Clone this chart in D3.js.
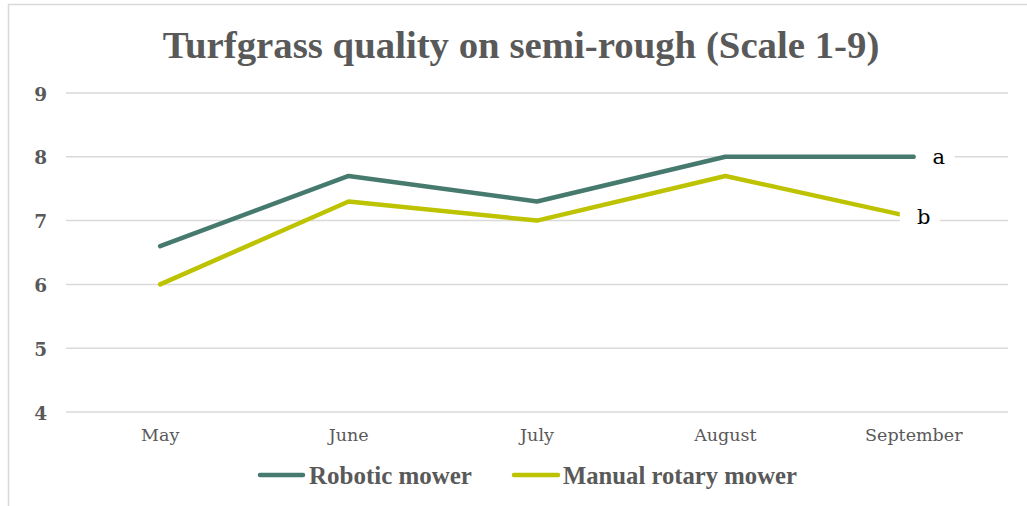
<!DOCTYPE html>
<html>
<head>
<meta charset="utf-8">
<script src="https://cdn.jsdelivr.net/npm/d3@7/dist/d3.min.js"></script>
<style>
  html, body { margin: 0; padding: 0; background: #fff; }
  svg { display: block; }
</style>
</head>
<body>
<svg id="chart" width="1027" height="506"></svg>
<script>
const categories = ["May", "June", "July", "August", "September"];
const robotic = [6.6, 7.7, 7.3, 8.0, 8.0];
const manual = [6.0, 7.3, 7.0, 7.7, 7.05];
const seriesNames = ["Robotic mower", "Manual rotary mower"];
const yTicks = [4, 5, 6, 7, 8, 9];
const endLabels = ["a", "b"];
const title = "Turfgrass quality on semi-rough (Scale 1-9)";

const colors = ["#477A6E", "#BDC300"];
const serif = "'DejaVu Serif', 'Liberation Serif', serif";
const serif2 = "'Liberation Serif', 'DejaVu Serif', serif";
const textColor = "#595959";

const svg = d3.select("#chart");

function fit(sel, target) {
  const w = sel.node().getComputedTextLength();
  const fs = parseFloat(sel.attr("font-size"));
  sel.attr("font-size", (fs * target / w).toFixed(2));
}

// outer border
svg.append("rect").attr("x", 8.5).attr("y", 4.5).attr("width", 1200).attr("height", 700)
  .attr("fill", "#fff").attr("stroke", "#D9D9D9").attr("stroke-width", 1.5);

const x = d3.scaleBand().domain(categories).range([66, 1008]);
const y = d3.scaleLinear().domain([4, 9]).range([412, 93]);
const cx = d => x(d) + x.bandwidth() / 2;

// gridlines
svg.append("g").selectAll("line").data(yTicks).join("line")
  .attr("x1", 66).attr("x2", 1008)
  .attr("y1", d => y(d)).attr("y2", d => y(d))
  .attr("stroke", "#D9D9D9").attr("stroke-width", 1.5);

// y axis labels
const yAxis = svg.append("g").attr("transform", "translate(47,0)")
  .call(d3.axisLeft(y).tickValues(yTicks).tickSize(0).tickPadding(0).tickFormat(d3.format("d")));
yAxis.select(".domain").remove();
yAxis.selectAll("text").attr("font-family", serif).attr("font-weight", "bold")
  .attr("font-size", 18.5).attr("fill", textColor).attr("dy", "0.38em");

// x axis labels
const xAxis = svg.append("g").attr("transform", "translate(0,429)")
  .call(d3.axisBottom(x).tickSize(0).tickPadding(0));
xAxis.select(".domain").remove();
xAxis.selectAll("text").attr("font-family", serif).attr("font-size", 17.5)
  .attr("fill", textColor).attr("dy", "0.71em");

// title
const t = svg.append("text").attr("x", 521).attr("y", 58).attr("text-anchor", "middle")
  .attr("font-family", serif2).attr("font-weight", "bold").attr("font-size", 30)
  .attr("fill", textColor).text(title);
fit(t, 717);

// lines
const line = d3.line().x((d, i) => cx(categories[i])).y(d => y(d));
[robotic, manual].forEach((s, k) => {
  svg.append("path").datum(s).attr("d", line).attr("fill", "none")
    .attr("stroke", colors[k]).attr("stroke-width", 4.5)
    .attr("stroke-linecap", "round").attr("stroke-linejoin", "round");
});

// end labels with white boxes
const last = categories.length - 1;
const lblBoxes = [[2, 41, 25], [-14, 26, 10]];
[robotic, manual].forEach((s, k) => {
  const px = cx(categories[last]);
  const py = y(s[last]);
  const b = lblBoxes[k];
  svg.append("rect").attr("x", px + b[0]).attr("y", py - 13)
    .attr("width", b[1] - b[0]).attr("height", 26).attr("fill", "#fff");
  svg.append("text").attr("x", px + b[2]).attr("y", py).attr("dy", "0.32em")
    .attr("text-anchor", "middle").attr("font-family", serif).attr("font-size", 21)
    .attr("fill", "#000").text(endLabels[k]);
});

// legend
const legendItems = [
  { sx: 258, ex: 305, tx: 309, tw: 163 },
  { sx: 512, ex: 560, tx: 563, tw: 234 }
];
legendItems.forEach((L, k) => {
  svg.append("line").attr("x1", L.sx + 2).attr("x2", L.ex - 2).attr("y1", 475).attr("y2", 475)
    .attr("stroke", colors[k]).attr("stroke-width", 4.5).attr("stroke-linecap", "round");
  const tt = svg.append("text").attr("x", L.tx).attr("y", 475).attr("dy", "0.35em")
    .attr("font-family", serif2).attr("font-weight", "bold").attr("font-size", 19)
    .attr("fill", textColor).text(seriesNames[k]);
  fit(tt, L.tw);
});
</script>
</body>
</html>
